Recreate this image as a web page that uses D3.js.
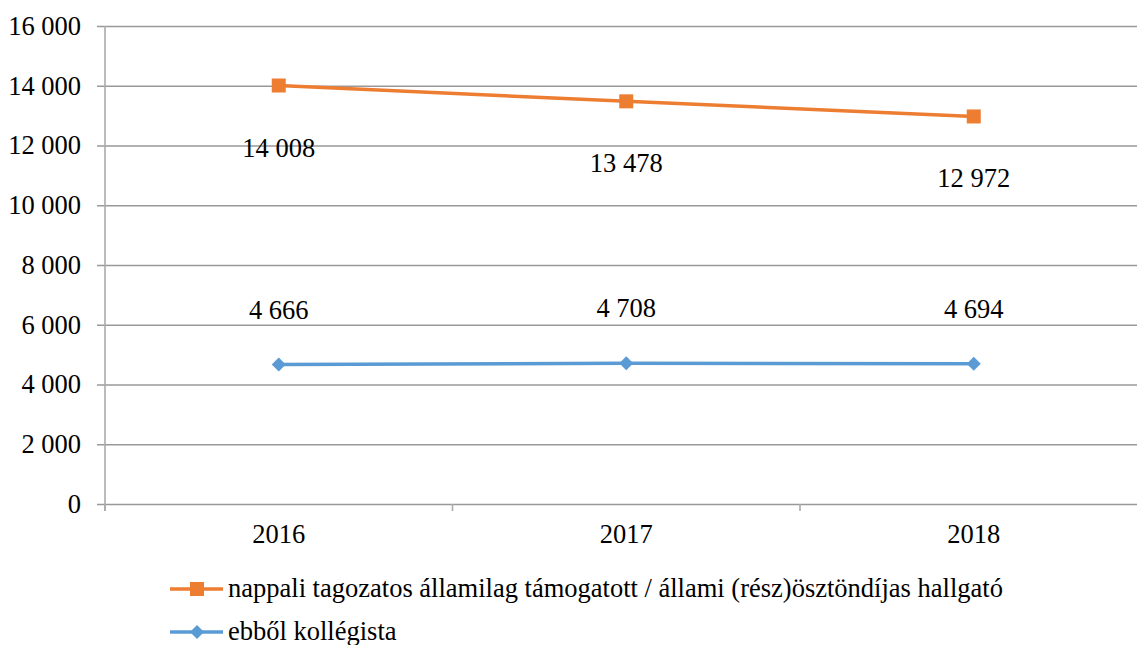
<!DOCTYPE html>
<html>
<head>
<meta charset="utf-8">
<script src="https://cdn.jsdelivr.net/npm/d3@7"></script>
<style>
  body { margin: 0; background: #fff; }
  svg { display: block; }
  svg text { font-family: "Liberation Serif", "Times New Roman", "DejaVu Serif", serif; }
</style>
</head>
<body>
<div id="chart"></div>
<script>
// Data
var years = ["2016", "2017", "2018"];
var hallgato = [14008, 13478, 12972];
var kollegista = [4666, 4708, 4694];
var seriesNames = [
  "nappali tagozatos államilag támogatott / állami (rész)ösztöndíjas hallgató",
  "ebből kollégista"
];
var yTicks = [0, 2000, 4000, 6000, 8000, 10000, 12000, 14000, 16000];

var W = 1137, H = 645;
var plotLeft = 105, plotRight = 1147.5, plotTop = 26, plotBottom = 504;
var fs = 26.5;

var svg = d3.select("#chart").append("svg")
  .attr("width", W)
  .attr("height", H);

var x = d3.scaleBand().domain(years).range([plotLeft, plotRight]);
var y = d3.scaleLinear().domain([0, 16000]).range([plotBottom, plotTop]);

var fmt = function(v) { return d3.format(",")(v).replace(/,/g, " "); };

// gridlines + y labels
var yAxis = svg.append("g")
  .attr("transform", "translate(" + plotLeft + ",0)")
  .call(d3.axisLeft(y).tickValues(yTicks).tickSize(-(plotRight - plotLeft)).tickFormat(fmt));
yAxis.attr("font-size", fs);
yAxis.select(".domain").remove();
yAxis.selectAll(".tick line").attr("x1", -8).attr("stroke", "#999").attr("stroke-width", 1.4);
yAxis.selectAll(".tick text").attr("fill", "#000").attr("x", -24);

// vertical axis line
svg.append("line")
  .attr("x1", plotLeft).attr("x2", plotLeft)
  .attr("y1", plotTop).attr("y2", plotBottom + 7)
  .attr("stroke", "#aaa").attr("stroke-width", 1.6);

// category ticks
var bounds = years.map(function(d) { return x(d); }).concat([plotRight]);
svg.selectAll(".xtick").data(bounds).enter().append("line")
  .attr("class", "xtick")
  .attr("x1", function(d) { return d; }).attr("x2", function(d) { return d; })
  .attr("y1", plotBottom).attr("y2", plotBottom + 7)
  .attr("stroke", "#aaa").attr("stroke-width", 1.6);

svg.selectAll(".xlabel").data(years).enter().append("text")
  .attr("x", function(d) { return x(d) + x.bandwidth() / 2; })
  .attr("y", 543)
  .attr("text-anchor", "middle")
  .attr("font-size", fs)
  .text(function(d) { return d; });

var cx = function(d, i) { return x(years[i]) + x.bandwidth() / 2; };
var line = d3.line().x(cx).y(function(d) { return y(d); });

// orange series
svg.append("path").datum(hallgato)
  .attr("d", line).attr("fill", "none")
  .attr("stroke", "#ED7D31").attr("stroke-width", 3.5);
svg.selectAll(".sq").data(hallgato).enter().append("rect")
  .attr("x", function(d, i) { return cx(d, i) - 7; })
  .attr("y", function(d) { return y(d) - 7; })
  .attr("width", 14).attr("height", 14)
  .attr("fill", "#ED7D31");
svg.selectAll(".lab1").data(hallgato).enter().append("text")
  .attr("x", cx)
  .attr("y", function(d) { return y(d) + 71; })
  .attr("text-anchor", "middle").attr("font-size", fs)
  .text(fmt);

// blue series
svg.append("path").datum(kollegista)
  .attr("d", line).attr("fill", "none")
  .attr("stroke", "#5B9BD5").attr("stroke-width", 3.5);
svg.selectAll(".dm").data(kollegista).enter().append("path")
  .attr("transform", function(d, i) { return "translate(" + cx(d, i) + "," + y(d) + ")"; })
  .attr("d", "M0,-7L7,0L0,7L-7,0Z")
  .attr("fill", "#5B9BD5");
svg.selectAll(".lab2").data(kollegista).enter().append("text")
  .attr("x", cx)
  .attr("y", function(d) { return y(d) - 46; })
  .attr("text-anchor", "middle").attr("font-size", fs)
  .text(fmt);

// legend
var legY = [589, 632];
var colors = ["#ED7D31", "#5B9BD5"];
seriesNames.forEach(function(name, i) {
  var g = svg.append("g").attr("transform", "translate(0," + legY[i] + ")");
  g.append("line").attr("x1", 170).attr("x2", 223)
    .attr("stroke", colors[i]).attr("stroke-width", 3.5);
  if (i === 0) {
    g.append("rect").attr("x", 190).attr("y", -7).attr("width", 14).attr("height", 14).attr("fill", colors[i]);
  } else {
    g.append("path").attr("d", "M197,-7L204,0L197,7L190,0Z").attr("fill", colors[i]);
  }
  g.append("text").attr("x", 228).attr("dy", "0.32em")
    .attr("font-size", fs).text(name);
});
</script>
</body>
</html>
